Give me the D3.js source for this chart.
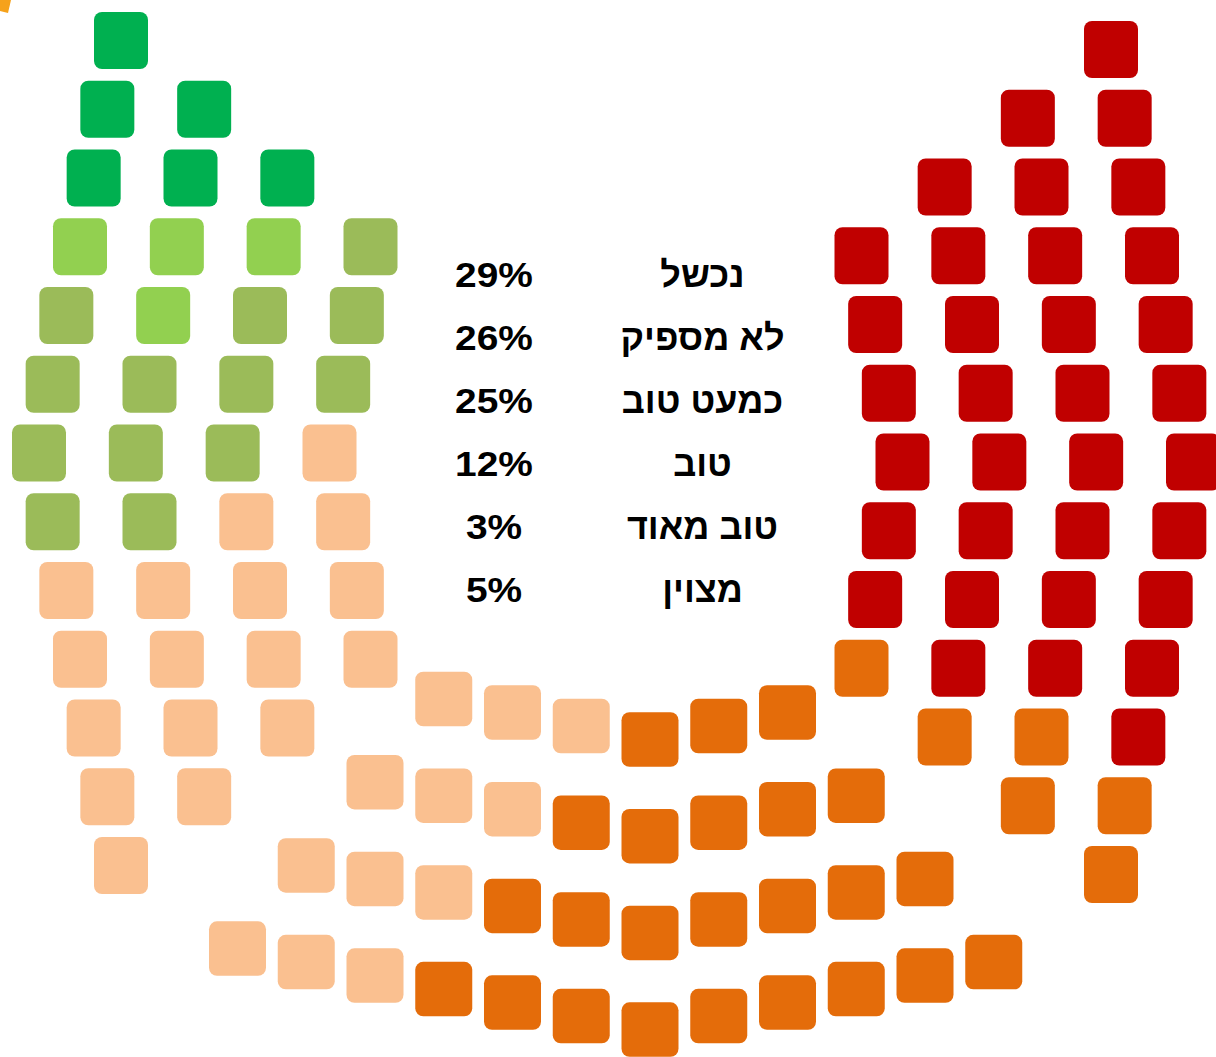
<!DOCTYPE html>
<html><head><meta charset="utf-8">
<script src="https://cdn.jsdelivr.net/npm/d3@7"></script>
<style>html,body{margin:0;padding:0;background:#fff;overflow:hidden}</style>
</head><body><svg id="chart" width="1216" height="1057"></svg>
<script>
// ---- data ----
const categories = ["מצוין", "טוב מאוד", "טוב", "כמעט טוב", "לא מספיק", "נכשל"];
const codes      = ["E", "V", "G", "A", "I", "F"];
const colors     = ["#00B050", "#92D050", "#9BBB59", "#FAC090", "#E46C0A", "#C00000"];
const percents   = [5, 3, 12, 25, 26, 29];
const legendOrder = ["F", "I", "A", "G", "V", "E"];
// seat colours, row by row (left to right)
const leftRows  = ["E","EE","EEE","VVVG","GVGG","GGGG","GGGA","GGAA","AAAA","AAAA","AAA","AA","A"];
const rightRows = ["F","FF","FFF","FFFF","FFFF","FFFF","FFFF","FFFF","FFFF","IFFF","IIF","II","I"];
const arcRows   = ["AAAIII","AAAIIIII","AAAIIIIIII","AAAIIIIIIIII"];

// ---- scales ----
const color = d3.scaleOrdinal().domain(codes).range(colors);
const label = d3.scaleOrdinal().domain(codes).range(categories);
const pct   = d3.scaleOrdinal().domain(codes).range(percents);

const W = 1216, H = 1057;
const svg = d3.select("#chart");
svg.append("rect").attr("width", W).attr("height", H).attr("fill", "#fff");

const rowYLeft  = d3.scaleLinear().domain([0, 12]).range([40.5, 865.5]);
const rowYRight = d3.scaleLinear().domain([0, 12]).range([49.5, 874.5]);
const outerX    = d3.scaleLinear().domain([0, 6]).range([39, 121]);   // by distance from middle row
const colX      = d3.scaleLinear().domain([0, 3]).range([0, 290.5]);
const mirrorSum = 1232;

const arcX    = d3.scaleLinear().domain([-6, 5]).range([237.5, 993.75]);
const arcLow  = d3.scaleLinear().domain([0, 3]).range([739.5, 1029.6]);
const arcRise = d3.scaleLinear().domain([0, 6]).range([0, 81]);

const seats = [];
leftRows.forEach((row, r) => {
  const x0 = outerX(Math.abs(r - 6));
  row.split("").forEach((c, i) => {
    seats.push({code: c, cx: x0 + colX(i), cy: rowYLeft(r), w: 54, h: 57});
  });
});
rightRows.forEach((row, r) => {
  const xr = mirrorSum - outerX(Math.abs(r - 6));
  const n = row.length;
  row.split("").forEach((c, i) => {
    seats.push({code: c, cx: xr - colX(n - 1 - i), cy: rowYRight(r), w: 54, h: 57});
  });
});
arcRows.forEach((row, k) => {
  const start = -(k + 3);
  row.split("").forEach((c, i) => {
    const j = start + i;
    seats.push({code: c, cx: arcX(j), cy: arcLow(k) - arcRise(Math.abs(j)), w: 57, h: 54.5});
  });
});

svg.append("g").selectAll("rect").data(seats).join("rect")
  .attr("x", d => d.cx - d.w / 2)
  .attr("y", d => d.cy - d.h / 2)
  .attr("width", d => d.w)
  .attr("height", d => d.h)
  .attr("rx", 8).attr("ry", 8)
  .attr("fill", d => color(d.code));

// small decorative corner at top-left
svg.append("path").attr("d", "M0,0 L11,0 L8,13 L0,11 Z").attr("fill", "#F6A21B");

// ---- legend text ----
const legY = d3.scaleLinear().domain([0, 5]).range([287, 602]);
const font = "'Liberation Sans', Arial, sans-serif";
const lg = svg.append("g").attr("font-family", font).attr("font-weight", "bold").attr("fill", "#000");
lg.selectAll("text.pct").data(legendOrder).join("text").attr("class", "pct")
  .attr("font-size", 36)
  .attr("transform", (d, i) => `translate(494,${legY(i)}) scale(1.08,1)`)
  .attr("text-anchor", "middle")
  .text(d => pct(d) + "%");
lg.selectAll("text.lbl").data(legendOrder).join("text").attr("class", "lbl")
  .attr("font-size", 36)
  .attr("x", 702.5).attr("y", (d, i) => legY(i))
  .attr("text-anchor", "middle")
  .attr("direction", "rtl")
  .text(d => label(d));
</script>
</body></html>
